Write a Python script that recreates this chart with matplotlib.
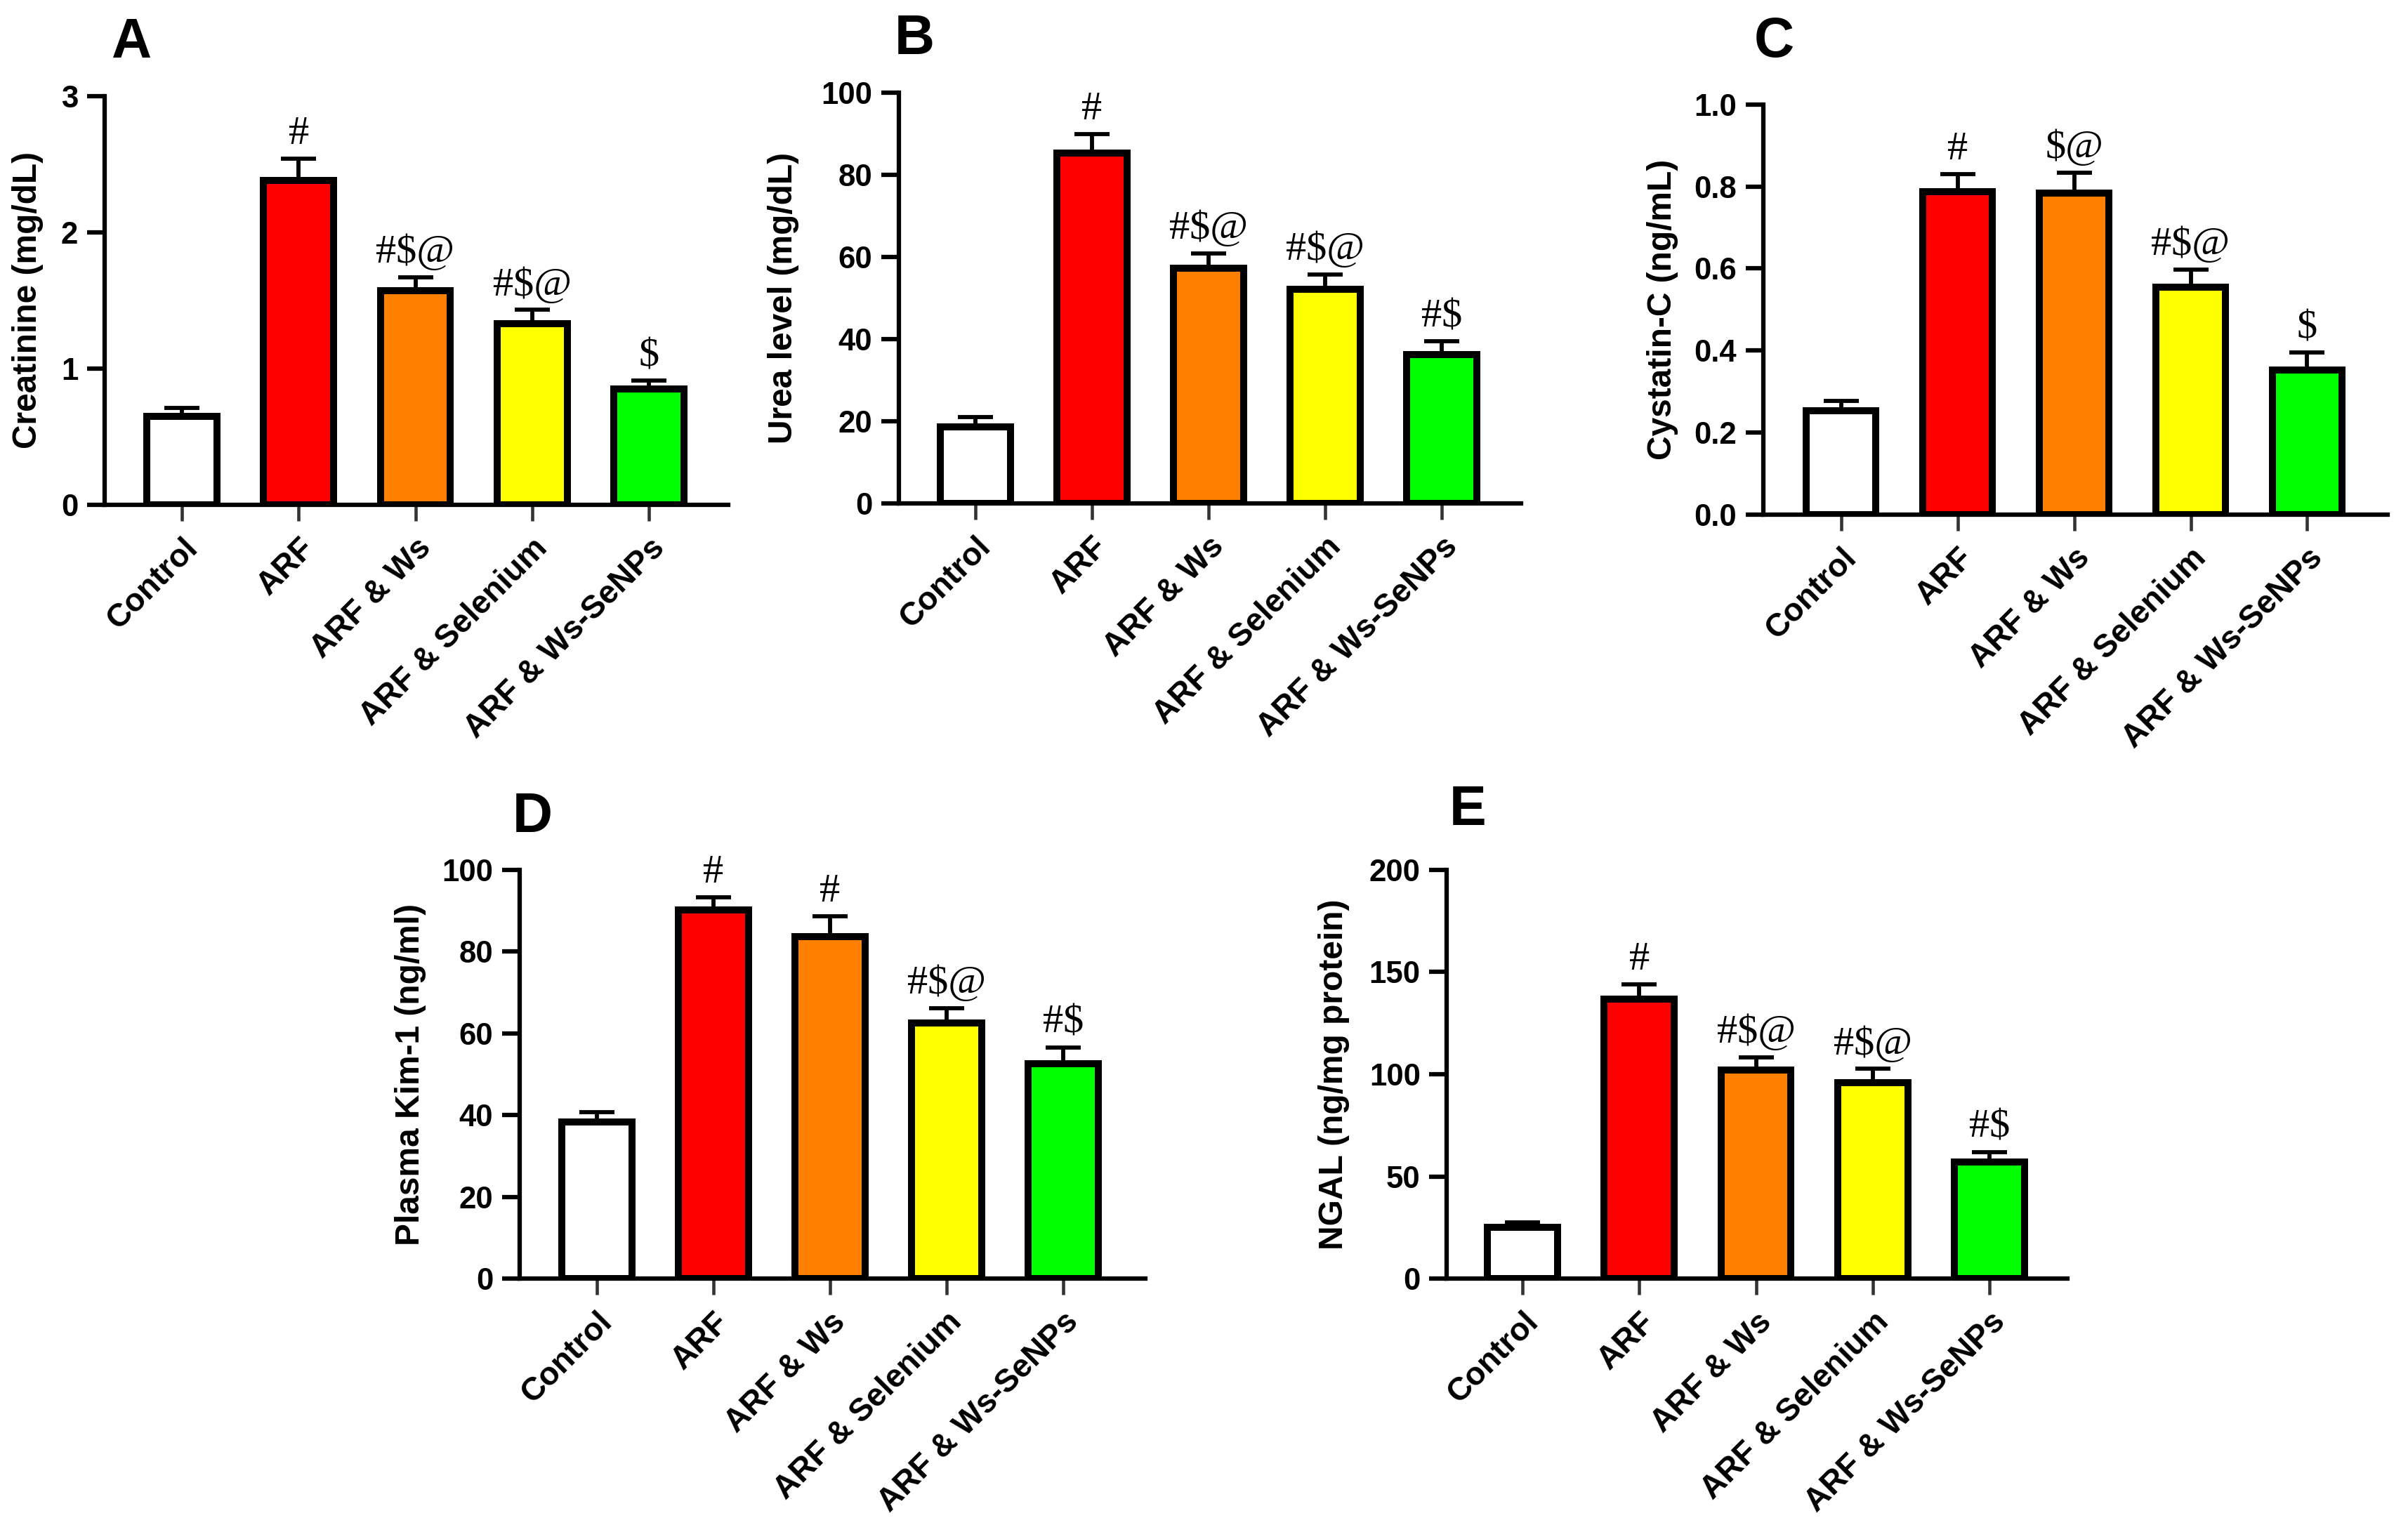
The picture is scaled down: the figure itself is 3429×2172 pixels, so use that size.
import matplotlib
matplotlib.use("Agg")
import matplotlib.pyplot as plt
import matplotlib.transforms as mtransforms
from matplotlib.ticker import FormatStrFormatter

# groups shared by all five panels
groups = ["Control", "ARF", "ARF & Ws", "ARF & Selenium", "ARF & Ws-SeNPs"]
bar_colors = ["#FFFFFF", "#FF0000", "#FF8000", "#FFFF00", "#00FF00"]

# A - creatinine
creatinine_mean = [0.65, 2.38, 1.57, 1.33, 0.85]
creatinine_sem = [0.06, 0.16, 0.10, 0.10, 0.06]
creatinine_marks = ["", "#", "#$@", "#$@", "$"]

# B - urea
urea_mean = [18.6, 85.3, 57.2, 52.2, 36.2]
urea_sem = [2.4, 4.6, 3.6, 3.6, 3.2]
urea_marks = ["", "#", "#$@", "#$@", "#$"]

# C - cystatin-C
cystatin_mean = [0.254, 0.788, 0.783, 0.555, 0.352]
cystatin_sem = [0.023, 0.042, 0.051, 0.042, 0.043]
cystatin_marks = ["", "#", "$@", "#$@", "$"]

# D - plasma Kim-1
kim1_mean = [38.3, 90.2, 83.6, 62.5, 52.5]
kim1_sem = [2.5, 3.1, 5.0, 3.6, 4.1]
kim1_marks = ["", "#", "#", "#$@", "#$"]

# E - NGAL
ngal_mean = [25.3, 136.8, 102.1, 95.8, 57.1]
ngal_sem = [2.2, 7.3, 6.1, 6.8, 4.9]
ngal_marks = ["", "#", "#$@", "#$@", "#$"]

W, H = 3429, 2172
plt.rcParams["font.family"] = ["Liberation Sans", "DejaVu Sans"]


def draw_panel(fig, ax, means, sems, marks, ymax, ystep, ylabel, fmt, xlim, label_x):
    x = list(range(len(groups)))
    ax.bar(x, means, width=0.6, color=bar_colors, edgecolor="black",
           linewidth=2.4, zorder=2)
    ax.errorbar(x, means, yerr=[[0] * len(sems), sems], fmt="none",
                ecolor="black", elinewidth=1.4, capsize=6, capthick=1.4,
                zorder=1)
    for xi, m, s, t in zip(x, means, sems, marks):
        if t:
            ax.annotate(t, (xi, m + s), xytext=(0, 5), textcoords="offset points",
                        ha="center", va="baseline", fontsize=14,
                        family="Liberation Serif")
    ax.set_xlim(*xlim)
    ax.set_ylim(0, ymax)
    ticks = [i * ystep for i in range(int(round(ymax / ystep)) + 1)]
    ax.set_yticks(ticks)
    ax.yaxis.set_major_formatter(FormatStrFormatter(fmt))
    ax.set_xticks(x)
    ax.set_xticklabels(groups, rotation=45, ha="right", va="top",
                       rotation_mode="anchor", fontsize=11, fontweight="bold")
    # nudge the slanted labels a little to the left
    shift = mtransforms.ScaledTranslation(-3 / 72, 0, fig.dpi_scale_trans)
    for lab in ax.get_xticklabels():
        lab.set_transform(lab.get_transform() + shift)
    for lab in ax.get_yticklabels():
        lab.set_fontweight("bold")
        lab.set_fontsize(10.5)
    ax.tick_params(axis="y", length=6, width=1.5, pad=3)
    ax.tick_params(axis="x", length=5.5, width=1.1, pad=4, color="#333333")
    ax.spines["top"].set_visible(False)
    ax.spines["right"].set_visible(False)
    ax.spines["left"].set_linewidth(1.5)
    ax.spines["bottom"].set_linewidth(1.5)
    ax.set_ylabel(ylabel, fontsize=11.5, fontweight="bold")
    ax.yaxis.set_label_coords(label_x, 0.5)


fig = plt.figure(figsize=(W / 300, H / 300), dpi=300)

boxes = {
    "A": (148.7, 136.8, 1036.8, 719.0),
    "B": (1279.6, 131.9, 2166.3, 717.0),
    "C": (2510.8, 148.7, 3399.7, 733.0),
    "D": (739.5, 1238.8, 1631.1, 1821.3),
    "E": (2060.2, 1238.8, 2944.1, 1821.3),
}
letters = {"A": (158, 82), "B": (1274, 77), "C": (2498, 81),
           "D": (730, 1185), "E": (2064, 1175)}

panels = [
    ("A", creatinine_mean, creatinine_sem, creatinine_marks, 3, 1,
     "Creatinine (mg/dL)", "%d", (-0.663, 4.678), -0.098),
    ("B", urea_mean, urea_sem, urea_marks, 100, 20,
     "Urea level (mg/dL)", "%d", (-0.657, 4.681), -0.16),
    ("C", cystatin_mean, cystatin_sem, cystatin_marks, 1.0, 0.2,
     "Cystatin-C (ng/mL)", "%.1f", (-0.667, 4.688), -0.136),
    ("D", kim1_mean, kim1_sem, kim1_marks, 100, 20,
     "Plasma Kim-1 (ng/ml)", "%d", (-0.664, 4.707), -0.149),
    ("E", ngal_mean, ngal_sem, ngal_marks, 200, 50,
     "NGAL (ng/mg protein)", "%d", (-0.649, 4.668), -0.156),
]

for name, means, sems, marks, ymax, ystep, ylabel, fmt, xlim, lx in panels:
    l, t, r, b = boxes[name]
    ax = fig.add_axes([l / W, 1 - b / H, (r - l) / W, (b - t) / H])
    draw_panel(fig, ax, means, sems, marks, ymax, ystep, ylabel, fmt, xlim, lx)
    px, py = letters[name]
    fig.text(px / W, 1 - py / H, name, fontsize=19, fontweight="bold",
             ha="left", va="baseline")

fig.savefig("out.png", dpi=300, facecolor="white")
